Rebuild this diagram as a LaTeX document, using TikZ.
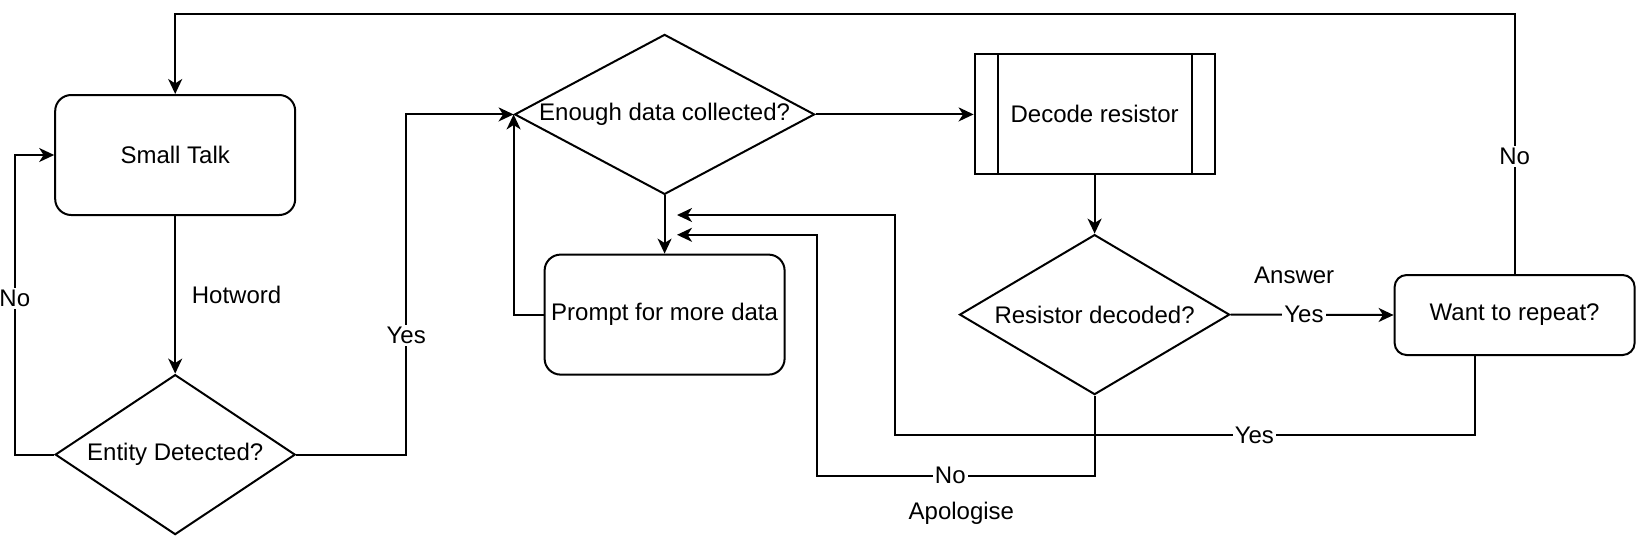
\documentclass[tikz,border=0pt]{standalone}
\usepackage{fontspec}
\setmainfont{Liberation Sans}
\usepackage{tikz}
\usetikzlibrary{arrows.meta}
\usetikzlibrary{shapes.geometric}
\usepackage{xcolor}

\begin{document}
\begin{tikzpicture}[x=1pt,
        y=-1pt,
        font=\fontsize{12}{14}\selectfont,
        roundbox/.style={shape=rectangle,
              draw=black,
              line width=1pt,
              rounded corners=8pt,
              inner sep=0pt,
              minimum width=120pt,
              minimum height=60pt},
        decision/.style={shape=diamond,
              draw=black,
              line width=1pt,
              aspect=1.9,
              inner sep=0pt,
              minimum width=120pt,
              minimum height=80pt},
        flow/.style={draw=black,
              line width=1pt,
              -{Stealth[length=7.5pt,width=7pt,inset=2.2pt]}},
        edgelabel/.style={fill=white, inner sep=1pt}]
        \useasboundingbox (0,0) rectangle (818,268);

        \node[roundbox] (smalltalk) at (87.6,77.5) {Small Talk};
        \node[decision] (entity) at (87.6,227.3) {Entity Detected?};
        \node[decision,
              minimum width=150pt] (enough) at (332.3,57.2) {Enough data collected?};
        \node[roundbox] (prompt) at (332.3,157.3) {Prompt for more data};
        \node[shape=rectangle,
              draw=black,
              line width=1pt,
              inner sep=0pt,
              minimum width=120pt,
              minimum height=60pt] (decode) at (547.3,57.2) {Decode resistor};
        \draw[line width=1pt] ([xshift=12pt]decode.north west) -- ([xshift=12pt]decode.south west);
        \draw[line width=1pt] ([xshift=-12pt]decode.north east) -- ([xshift=-12pt]decode.south east);
        \node[decision,
              minimum width=135pt] (decoded) at (547.3,157.3) {Resistor decoded?};
        \node[roundbox,
              rounded corners=6pt,
              minimum height=40pt] (wantrepeat) at (757.3,157.5) {Want to repeat?};

        % loose ends of the two return arrows
        \coordinate (noend) at (338.5,117.4);
        \coordinate (yesend) at (338.5,107.5);

        \draw[flow] (wantrepeat.north) -- ++(0,-130.2) node[edgelabel, pos=0.45] {No} -| (smalltalk.north);
        \draw[flow] (smalltalk.south) -- (entity.north) node[pos=0.5, anchor=west, xshift=4.5pt] {Hotword};
        \draw[flow] (entity.west) -- ++(-19.7,0) |- (smalltalk.west) node[edgelabel, pos=0.26] {No};
        \draw[flow] (entity.east) -- ++(55,0) |- (enough.west) node[edgelabel, pos=0.175] {Yes};
        \draw[flow] (enough.east) -- (decode.west);
        \draw[flow] (enough.south) -- (prompt.north);
        \draw[flow] (prompt.west) -| (enough.west);
        \draw[flow] (decode.south) -- (decoded.north);
        \draw[flow] (decoded.east) -- (wantrepeat.west) node[edgelabel, pos=0.45] {Yes} node[pos=0.39, yshift=19.6pt] {Answer};
        \draw[flow] (decoded.south) |- (408.5,237.9) node[edgelabel, pos=0.76] {No} node[pos=0.74, yshift=-18.6pt] {Apologise} |- (noend);
        \draw[flow] ([xshift=-20pt]wantrepeat.south) |- (447.5,217.5) node[edgelabel, pos=0.69] {Yes} |- (yesend);
    \end{tikzpicture}
\end{document}
